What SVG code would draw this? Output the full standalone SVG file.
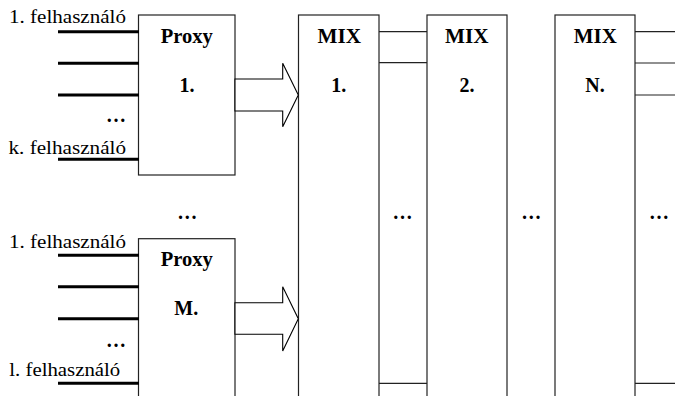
<svg xmlns="http://www.w3.org/2000/svg" width="675" height="396" viewBox="0 0 675 396">
<style>
.box{fill:#fff;stroke:#222;stroke-width:1.2}
.thick{stroke:#000;stroke-width:3;fill:none}
.thin{stroke:#222;stroke-width:1.2;fill:none}
.arrow{fill:#fff;stroke:#000;stroke-width:1.1}
text{font-family:'Liberation Serif','Times New Roman',serif}
.lbl{font-size:19.5px;fill:#000}
.b{font-size:20px;font-weight:bold;fill:#000;text-anchor:middle}
</style>
<rect width="675" height="396" fill="#fff"/>
<g id="mix1"><rect class="box" x="298.5" y="15" width="80.5" height="390"/><text class="b" x="339.2" y="42.7" textLength="43.5" lengthAdjust="spacingAndGlyphs">MIX</text><text class="b" x="338.8" y="91.7">1.</text></g>
<g id="mix2"><rect class="box" x="427" y="15" width="80" height="390"/><text class="b" x="466.7" y="42.7" textLength="43.5" lengthAdjust="spacingAndGlyphs">MIX</text><text class="b" x="467" y="91.7">2.</text></g>
<g id="mixN"><rect class="box" x="555" y="15" width="80" height="390"/><text class="b" x="595.3" y="42.7" textLength="43" lengthAdjust="spacingAndGlyphs">MIX</text><text class="b" x="595" y="91.7">N.</text></g>
<g id="proxy1"><rect class="box" x="138.5" y="15" width="96.5" height="160"/><text class="b" x="186.7" y="42.7" textLength="52" lengthAdjust="spacingAndGlyphs">Proxy</text><text class="b" x="187" y="91.7">1.</text></g>
<g id="proxyM"><rect class="box" x="138.5" y="238.7" width="96.5" height="170"/><text class="b" x="186.7" y="266" textLength="52" lengthAdjust="spacingAndGlyphs">Proxy</text><text class="b" x="186.3" y="315.3">M.</text></g>
<g id="users1">
<text class="lbl" x="9" y="22.7" textLength="117" lengthAdjust="spacingAndGlyphs">1. felhasználó</text>
<text class="lbl" x="8.5" y="154" textLength="117.5" lengthAdjust="spacingAndGlyphs">k. felhasználó</text>
<text class="b" x="116" y="122">…</text>
</g>
<g id="usersM">
<text class="lbl" x="9" y="247.7" textLength="117" lengthAdjust="spacingAndGlyphs">1. felhasználó</text>
<text class="lbl" x="9.3" y="376" textLength="111" lengthAdjust="spacingAndGlyphs">l. felhasználó</text>
<text class="b" x="116" y="346.5">…</text>
</g>
<g id="ellipses">
<text class="b" x="187.3" y="219">…</text>
<text class="b" x="402.5" y="219">…</text>
<text class="b" x="531.3" y="219">…</text>
<text class="b" x="659" y="219">…</text>
</g>
<g id="connectors">
<path class="thick" d="M58 31.7H139M58 63.3H139M58 95H139M58 159.3H139"/>
<path class="thick" d="M58 255.3H139M58 286.7H139M58 318.7H139M58 383.3H139"/>
<path class="arrow" d="M235 79H282.7V63.3L298.3 95L282.7 126.7V111H235Z"/>
<path class="arrow" d="M235 302.7H282.7V286.7L298.3 318.7L282.7 351V334.3H235Z"/>
<path class="thin" d="M379 31.7H427M379 62.7H427M379 383.3H427"/>
<path class="thin" d="M635 31.7H675M635 63H675M635 95H675M635 383.3H675"/>
</g>
</svg>
